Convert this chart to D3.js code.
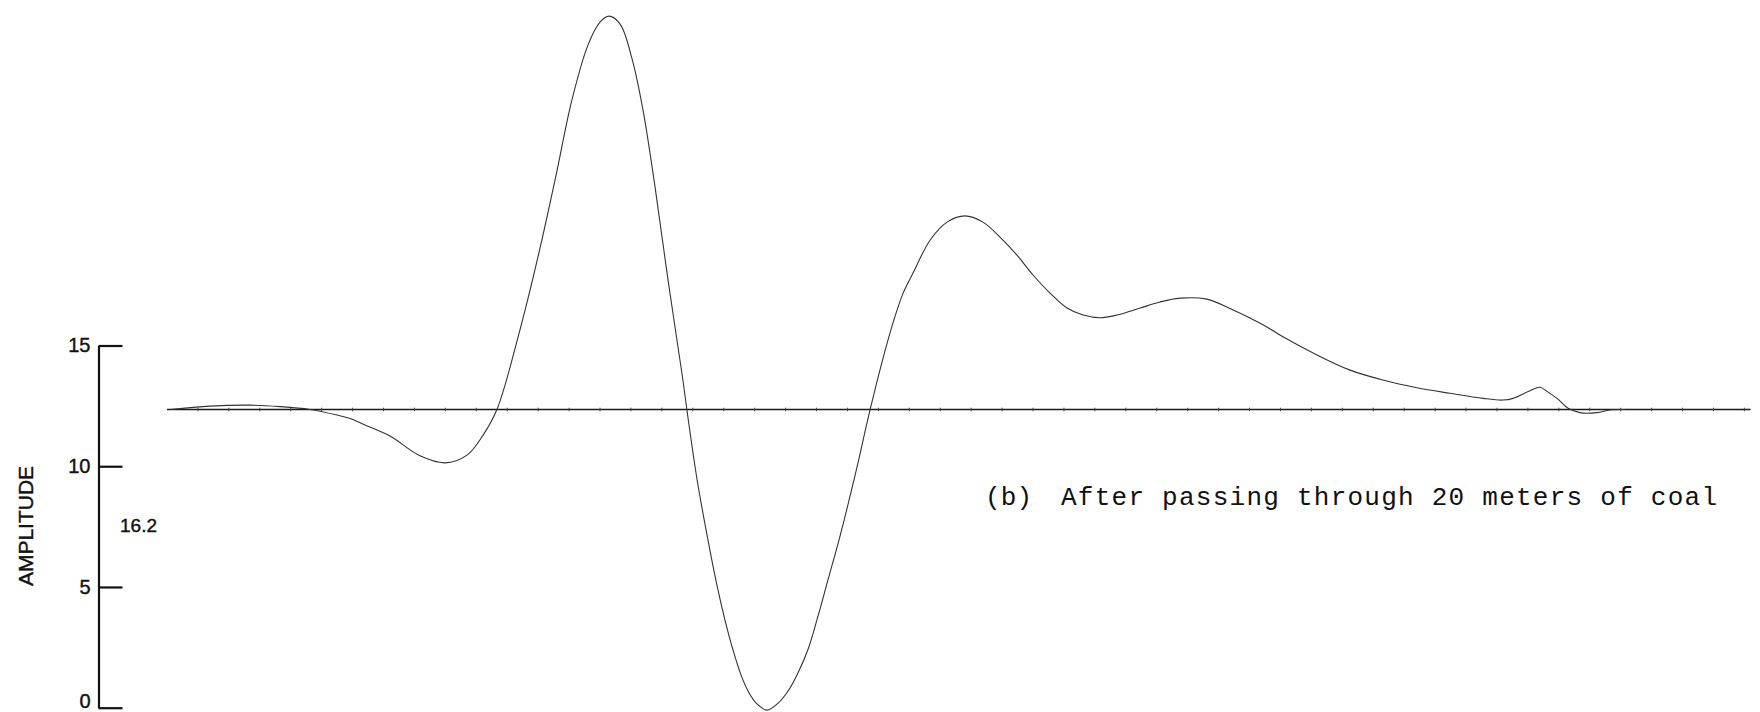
<!DOCTYPE html>
<html>
<head>
<meta charset="utf-8">
<script src="https://cdn.jsdelivr.net/npm/d3@7"></script>
<style>
  html, body { margin: 0; padding: 0; background: #fff; }
  svg { display: block; }
</style>
</head>
<body>
<svg id="chart" width="1760" height="712"></svg>
<script>
// Waveform after 20 m of coal: time (arbitrary units) vs amplitude
const time = [
  0.10, 1.39, 2.68, 3.65, 4.62, 5.50, 5.92, 6.40, 7.21, 8.18,
  8.99, 9.70, 10.22, 10.67, 11.41, 12.06, 12.58, 13.09, 13.61, 14.00,
  14.29, 14.65, 15.03, 15.39, 15.78, 16.20, 16.68, 16.81, 17.14, 17.46,
  17.78, 18.04, 18.30, 18.56, 18.82, 19.08, 19.40, 19.76, 20.08, 20.40,
  20.73, 21.05, 21.37, 21.76, 22.24, 22.73, 23.16, 23.47, 23.80, 24.12,
  24.67, 25.22, 25.80, 26.38, 26.93, 27.48, 28.00, 28.55, 29.10, 29.62,
  30.17, 30.71, 31.46, 32.10, 32.75, 33.62, 34.47, 35.01, 35.56, 36.08,
  37.18, 38.25, 39.31, 40.41, 41.48, 42.55, 43.19, 43.52, 44.07, 44.39,
  44.65, 44.94, 45.30, 45.68, 46.23, 46.65, 47.14
];
const amplitude = [
  12.35, 12.49, 12.53, 12.47, 12.35, 12.12, 11.98, 11.71, 11.25, 10.43,
  10.14, 10.46, 11.29, 12.36, 15.64, 19.03, 22.06, 25.16, 27.44, 28.39,
  28.64, 28.31, 26.90, 24.75, 21.56, 17.71, 13.57, 12.33, 9.43, 7.15,
  5.08, 3.63, 2.39, 1.35, 0.61, 0.15, -0.10, 0.19, 0.69, 1.44,
  2.43, 3.80, 5.29, 7.11, 9.59, 12.33, 14.52, 15.93, 17.17, 18.00,
  19.36, 20.11, 20.37, 20.11, 19.49, 18.74, 17.92, 17.17, 16.55, 16.26,
  16.15, 16.26, 16.55, 16.80, 16.96, 16.92, 16.47, 16.14, 15.77, 15.36,
  14.61, 13.98, 13.57, 13.25, 13.02, 12.81, 12.74, 12.81, 13.13, 13.27,
  13.07, 12.81, 12.40, 12.22, 12.22, 12.33, 12.35
];

// Zero-signal reference level and its time span
const baselineLevel = 12.35;
const timeSpan = [0, 51.2];

// Amplitude axis ticks
const yTicks = [0, 5, 10, 15];
const scaleNote = "16.2";
const yTitle = "AMPLITUDE";
const captionTag = "(b)";
const captionText = "After passing through 20 meters of coal";

const svg = d3.select("#chart");

const x = d3.scaleLinear().domain(timeSpan).range([167, 1750.6]);
const y = d3.scaleLinear().domain([0, 15]).range([707.7, 345.5]);

const sansFont = "'Liberation Sans', Arial, sans-serif";

// Amplitude axis: ticks point right, labels on the left
const yAxis = d3.axisLeft(y)
  .tickValues(yTicks)
  .tickSize(-24)
  .tickSizeOuter(0)
  .tickPadding(8)
  .tickFormat(d3.format("d"));

const gy = svg.append("g")
  .attr("transform", "translate(98.5,0)")
  .call(yAxis);
gy.select(".domain").attr("stroke", "#111").attr("stroke-width", 2.2);
gy.selectAll(".tick line").attr("stroke", "#111").attr("stroke-width", 2.2);
gy.selectAll(".tick text")
  .attr("fill", "#111")
  .attr("stroke", "#111")
  .attr("stroke-width", 0.4)
  .attr("dy", d => d === 0 ? "0em" : "0.32em")
  .style("font-family", sansFont)
  .style("font-size", "20px");

// Scale factor note beside the axis
svg.append("text")
  .attr("x", 120)
  .attr("y", 525)
  .attr("dy", "0.35em")
  .attr("fill", "#111")
  .attr("stroke", "#111")
  .attr("stroke-width", 0.4)
  .style("font-family", sansFont)
  .style("font-size", "19px")
  .text(scaleNote);

// Axis title
svg.append("text")
  .attr("transform", "translate(33,526) rotate(-90)")
  .attr("text-anchor", "middle")
  .attr("fill", "#111")
  .attr("stroke", "#111")
  .attr("stroke-width", 0.4)
  .style("font-family", sansFont)
  .style("font-size", "21px")
  .text(yTitle);

// Reference baseline with small time marks
const yb = y(baselineLevel);
svg.append("line")
  .attr("x1", x(timeSpan[0])).attr("x2", x(timeSpan[1]))
  .attr("y1", yb).attr("y2", yb)
  .attr("stroke", "#1a1a1a")
  .attr("stroke-width", 1.5);

svg.append("g")
  .selectAll("line")
  .data(d3.range(1, 52))
  .join("line")
  .attr("x1", d => x(d)).attr("x2", d => x(d))
  .attr("y1", yb - 1.8).attr("y2", yb + 1.8)
  .attr("stroke", "#444")
  .attr("stroke-width", 1);

// Waveform trace
const pts = time.map((t, i) => [t, amplitude[i]]);
const line = d3.line()
  .x(d => x(d[0]))
  .y(d => y(d[1]))
  .curve(d3.curveCatmullRom.alpha(0.5));

svg.append("path")
  .datum(pts)
  .attr("d", line)
  .attr("fill", "none")
  .attr("stroke", "#333")
  .attr("stroke-width", 1.1)
  .attr("stroke-linejoin", "round");

// Caption
const monoFont = "'Liberation Mono', 'DejaVu Sans Mono', monospace";
svg.append("text")
  .attr("x", 985)
  .attr("y", 505)
  .attr("fill", "#111")
  .attr("textLength", 47)
  .attr("lengthAdjust", "spacing")
  .style("font-family", monoFont)
  .style("font-size", "26px")
  .text(captionTag);

svg.append("text")
  .attr("x", 1061)
  .attr("y", 505)
  .attr("fill", "#111")
  .attr("textLength", 656)
  .attr("lengthAdjust", "spacing")
  .style("font-family", monoFont)
  .style("font-size", "26px")
  .text(captionText);
</script>
</body>
</html>
